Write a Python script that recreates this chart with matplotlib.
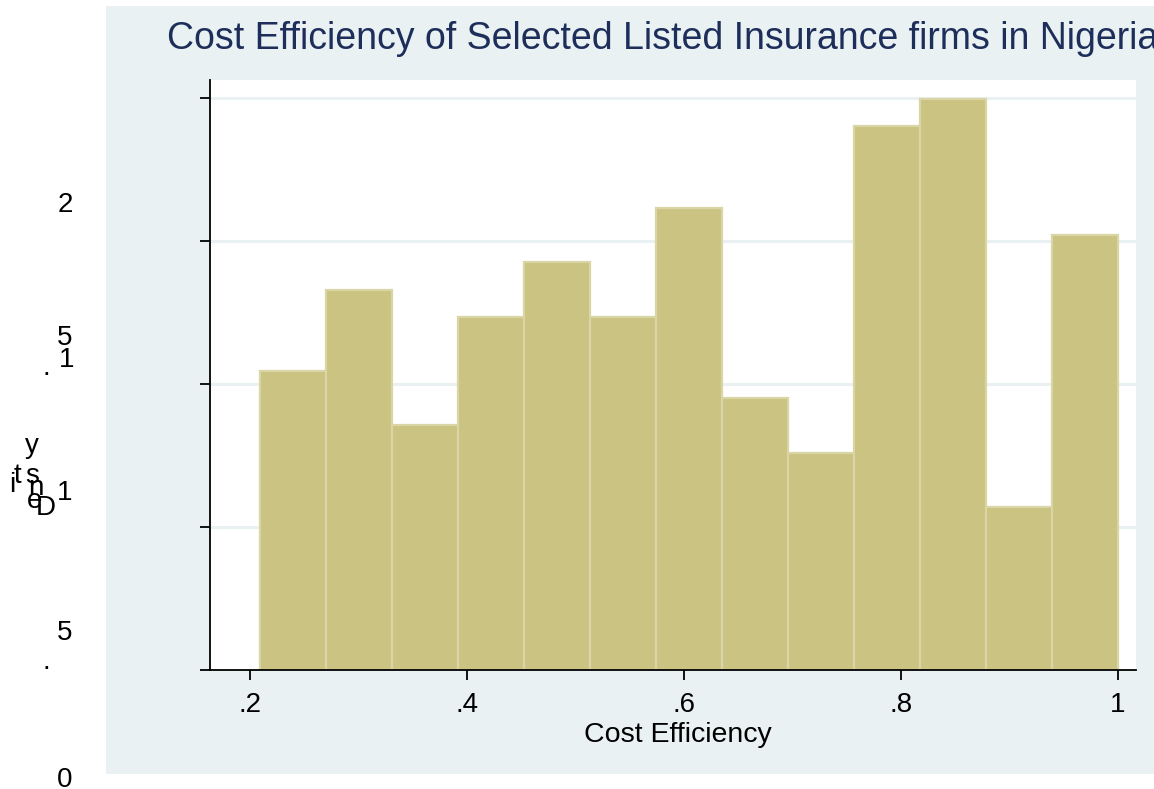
import numpy as np
import matplotlib
matplotlib.use("Agg")
import matplotlib.pyplot as plt
from matplotlib.patches import Rectangle

plt.rcParams['font.family'] = ['Liberation Sans', 'DejaVu Sans']

# ---- data ----
title = "Cost Efficiency of Selected Listed Insurance firms in Nigeria"
x_label = "Cost Efficiency"
data_min, data_max = 0.2092, 1.0
bin_counts = [11, 14, 9, 13, 15, 13, 17, 10, 8, 20, 21, 6, 16]
x_ticks = [0.2, 0.4, 0.6, 0.8, 1.0]
x_tick_labels = [".2", ".4", ".6", ".8", "1"]
y_ticks = [0, 0.5, 1.0, 1.5, 2.0]
# garbled y labels as they appear (character, x px, baseline y px)
y_label_chars = [
    ("2", 65, 212),
    ("5", 65, 345), ("1", 67, 367), (".", 46, 375),
    ("y", 32, 453), ("t", 17, 483), ("i", 12, 492), ("s", 32, 483),
    ("n", 36, 495), ("e", 35, 508), ("D", 46, 515), ("1", 65, 500),
    ("5", 65, 640), (".", 46, 669),
    ("0", 65, 787),
]

W, H = 1154, 789
fig = plt.figure(figsize=(W / 100, H / 100), dpi=100, facecolor="white")

bg = "#EAF1F3"
fig.patches.append(Rectangle((106 / W, 1 - 774 / H), (1154 - 106) / W, (774 - 6) / H,
                             transform=fig.transFigure, facecolor=bg, edgecolor="none", zorder=-10))

ax = fig.add_axes([210 / W, 1 - 670 / H, (1136 - 210) / W, (670 - 80) / H])
ax.set_zorder(2)
ax.set_facecolor("white")

nb = len(bin_counts)
edges = np.linspace(data_min, data_max, nb + 1)
width = edges[1] - edges[0]
N = sum(bin_counts)
dens = np.array(bin_counts) / (N * width)

ax.bar(edges[:-1], dens, width=width, align="edge", color="#CAC381",
       edgecolor="#DAD5A4", linewidth=1.6, zorder=3)

ax.set_xlim(0.2 - 40 / 1085, 1 + 18 / 1085)
ax.set_ylim(0, 590 / 286)

for yv in y_ticks[1:]:
    ax.axhline(yv, color=bg, linewidth=2.2, zorder=1)

for s in ["top", "right"]:
    ax.spines[s].set_visible(False)
for s in ["left", "bottom"]:
    ax.spines[s].set_linewidth(1.3)
    ax.spines[s].set_color("black")
    ax.spines[s].set_zorder(5)

ax.set_xticks(x_ticks)
ax.set_xticklabels(x_tick_labels, fontsize=20)
ax.set_yticks(y_ticks)
ax.set_yticklabels([])
ax.tick_params(axis="both", direction="out", length=7.2, width=1.3, color="black")
ax.tick_params(axis="x", pad=9)

fig.text(678 / W, 1 - 742 / H, x_label, fontsize=20.5, ha="center", va="baseline")

fig.text(167 / W, 1 - 49 / H, title, fontsize=27, color="#1E2E5A", ha="left", va="baseline")

for ch, px, py in y_label_chars:
    fig.text(px / W, 1 - py / H, ch, fontsize=20, ha="center", va="baseline")

fig.savefig("out.png", dpi=100, facecolor="white")
